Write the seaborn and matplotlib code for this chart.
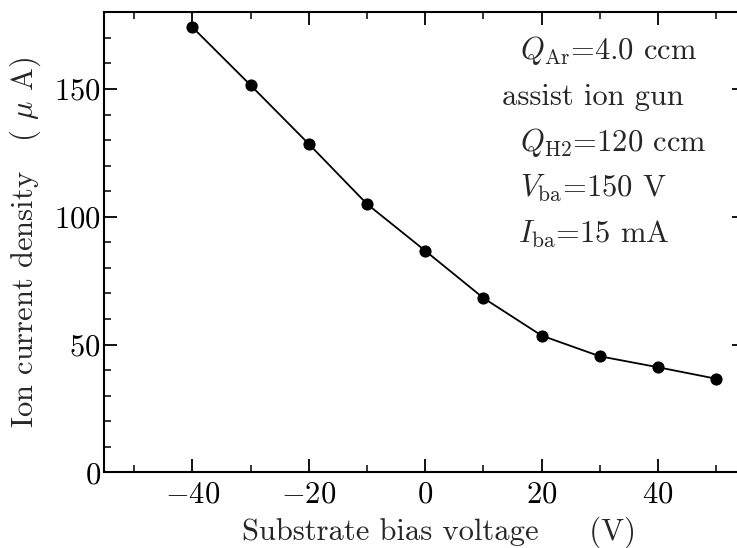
import matplotlib
matplotlib.use("Agg")
import matplotlib.pyplot as plt
import seaborn as sns
import pandas as pd
from matplotlib.ticker import MultipleLocator

# Data
bias_voltage = [-40, -30, -20, -10, 0, 10, 20, 30, 40, 50]
ion_current = [174.2, 151.5, 128.5, 105.0, 86.7, 68.2, 53.5, 45.4, 41.1, 36.6]
x_ticks = [-40, -20, 0, 20, 40]
y_ticks = [0, 50, 100, 150]
annot_lines = [r"$Q_{\rm Ar}$=4.0 ccm", "assist ion gun", r"$Q_{\rm H2}$=120 ccm",
               r"$V_{\rm ba}$=150 V", r"$I_{\rm ba}$=15 mA"]

sns.set_theme(style="ticks")
plt.rcParams["font.family"] = ["cmr10", "DejaVu Serif"]
plt.rcParams["mathtext.fontset"] = "cm"
plt.rcParams["axes.formatter.use_mathtext"] = True
plt.rcParams["axes.unicode_minus"] = True

df = pd.DataFrame({"V": bias_voltage, "I": ion_current})

W, H = 737, 548
fig = plt.figure(figsize=(W / 100, H / 100), dpi=100)
x0, x1, y0, y1 = 103.5, 745.4, 472.3, 12.3
ax = fig.add_axes([x0 / W, 1 - y0 / H, (x1 - x0) / W, (y0 - y1) / H])

sns.lineplot(data=df, x="V", y="I", ax=ax, color="black", marker="o",
             markersize=8, markeredgecolor="black", linewidth=1.3)

ax.set_xlim(-55.25, 55)
ax.set_ylim(0, 180)
ax.set_xticks(x_ticks)
ax.set_yticks(y_ticks)
ax.xaxis.set_minor_locator(MultipleLocator(10))
ax.yaxis.set_minor_locator(MultipleLocator(10))

for s in ax.spines.values():
    s.set_color("black")
    s.set_linewidth(1.5)

ax.tick_params(which="both", direction="in", top=True, right=True, colors="black")
ax.tick_params(which="major", length=9.5, width=1.3, labelsize=22)
ax.tick_params(which="minor", length=5, width=1.1)
ax.tick_params(which="minor", axis="y", right=False)
ax.tick_params(axis="x", which="major", pad=6)
ax.tick_params(axis="y", which="major", pad=2)

ax.set_xlabel("Substrate bias voltage     (V)", fontsize=22)
ax.xaxis.set_label_coords((439 - x0) / (x1 - x0), -(517 - y0) / (y0 - y1))
ax.set_ylabel(r"Ion current density   ( $\mu$ A)", fontsize=22)
ax.yaxis.set_label_coords((43 - x0) / (x1 - x0), 0.5)

ys = [59, 105, 151, 197, 243]
xs = [520, 502, 520, 520, 518]
for t, xp, yp in zip(annot_lines, xs, ys):
    fig.text(xp / W, 1 - yp / H, t, fontsize=22, ha="left", va="baseline")

ax.grid(False)
fig.savefig("out.png", dpi=100)
